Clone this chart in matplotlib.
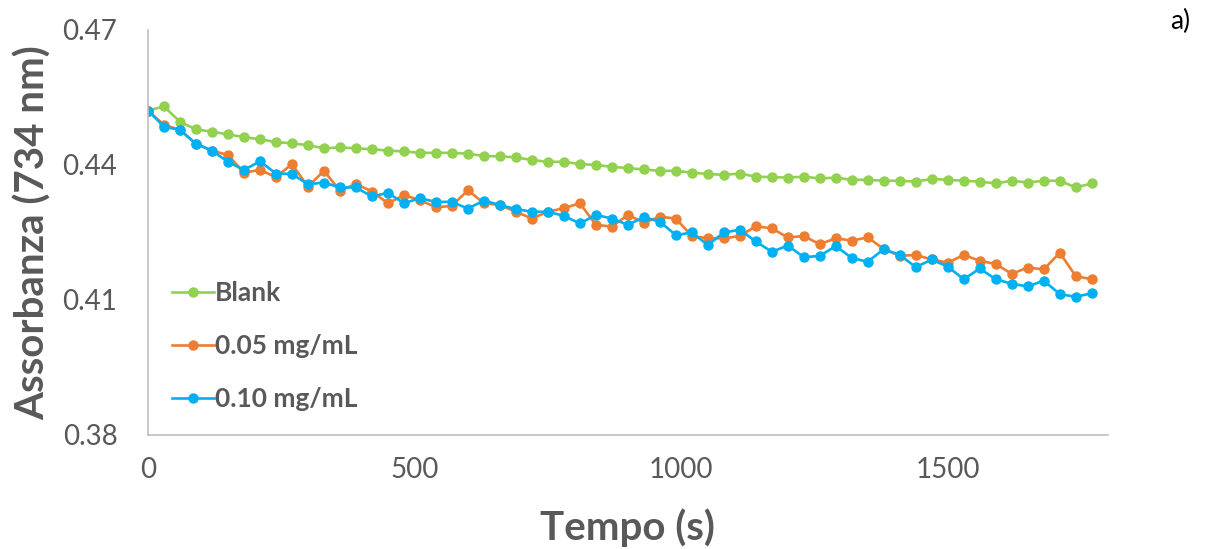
import numpy as np
import matplotlib
matplotlib.use("Agg")
import matplotlib.pyplot as plt

# tempo (s), una lettura ogni 30 s
tempo = np.arange(0, 1800, 30)

blank = [0.4521, 0.4530, 0.4496, 0.4479, 0.4474, 0.4468, 0.4462, 0.4457, 0.4451, 0.4448,
         0.4444, 0.4437, 0.4439, 0.4437, 0.4435, 0.4432, 0.4430, 0.4427, 0.4427, 0.4427,
         0.4425, 0.4420, 0.4419, 0.4417, 0.4411, 0.4407, 0.4407, 0.4402, 0.4400, 0.4396,
         0.4393, 0.4390, 0.4387, 0.4387, 0.4383, 0.4380, 0.4378, 0.4381, 0.4374, 0.4373,
         0.4372, 0.4374, 0.4370, 0.4372, 0.4367, 0.4367, 0.4365, 0.4365, 0.4363, 0.4369,
         0.4367, 0.4365, 0.4363, 0.4359, 0.4365, 0.4361, 0.4365, 0.4365, 0.4350, 0.4359]

c005 = [0.4521, 0.4489, 0.4478, 0.4447, 0.4432, 0.4422, 0.4383, 0.4389, 0.4373, 0.4402,
        0.4352, 0.4387, 0.4343, 0.4358, 0.4341, 0.4315, 0.4333, 0.4322, 0.4306, 0.4309,
        0.4344, 0.4315, 0.4311, 0.4296, 0.4281, 0.4296, 0.4304, 0.4315, 0.4267, 0.4263,
        0.4289, 0.4272, 0.4285, 0.4281, 0.4242, 0.4237, 0.4237, 0.4242, 0.4264, 0.4259,
        0.4239, 0.4242, 0.4224, 0.4237, 0.4232, 0.4239, 0.4213, 0.4198, 0.4200, 0.4190,
        0.4183, 0.4200, 0.4187, 0.4180, 0.4158, 0.4172, 0.4168, 0.4205, 0.4153, 0.4146]

c010 = [0.4521, 0.4485, 0.4478, 0.4447, 0.4432, 0.4407, 0.4389, 0.4408, 0.4381, 0.4380,
        0.4357, 0.4361, 0.4350, 0.4350, 0.4330, 0.4338, 0.4315, 0.4326, 0.4318, 0.4318,
        0.4303, 0.4321, 0.4311, 0.4302, 0.4296, 0.4296, 0.4287, 0.4270, 0.4289, 0.4281,
        0.4267, 0.4284, 0.4274, 0.4244, 0.4250, 0.4222, 0.4250, 0.4256, 0.4230, 0.4207,
        0.4221, 0.4195, 0.4198, 0.4220, 0.4193, 0.4185, 0.4213, 0.4200, 0.4173, 0.4190,
        0.4174, 0.4146, 0.4170, 0.4146, 0.4136, 0.4130, 0.4143, 0.4113, 0.4107, 0.4115]

etichette = ['Blank', '0.05 mg/mL', '0.10 mg/mL']
colori = ['#92D050', '#ED7D31', '#00B0F0']

plt.rcParams['font.family'] = ['Lato', 'DejaVu Sans']
grigio = '#595959'

fig = plt.figure(figsize=(12.08, 5.49), dpi=100)
ax = fig.add_axes([0.1225, 0.2077, 0.7945, 0.7377])

for serie, lab, col in zip([blank, c005, c010], etichette, colori):
    ax.plot(tempo, serie, color=col, lw=1.9, marker='o', markersize=6.5, label=lab)

ax.set_xlim(0, 1800)
ax.set_ylim(0.38, 0.47)
ax.set_xticks([0, 500, 1000, 1500])
ax.set_yticks([0.38, 0.41, 0.44, 0.47])
ax.set_yticklabels(['0.38', '0.41', '0.44', '0.47'])
ax.tick_params(length=0, labelsize=20, colors=grigio)
ax.tick_params(axis='y', pad=22)
ax.tick_params(axis='x', pad=16)

for s in ['top', 'right']:
    ax.spines[s].set_visible(False)
for s in ['left', 'bottom']:
    ax.spines[s].set_color('#BFBFBF')
    ax.spines[s].set_linewidth(1.2)

ax.set_xlabel('Tempo (s)', fontsize=29, fontweight='bold', color=grigio, labelpad=18)
ax.set_ylabel('Assorbanza (734 nm)', fontsize=29, fontweight='bold', color=grigio, labelpad=8)

leg = ax.legend(loc='lower left', bbox_to_anchor=(0.0, 0.0), frameon=False,
                prop={'size': 19, 'weight': 'bold'}, labelspacing=1.1,
                handlelength=1.6, handletextpad=0.05)
for t in leg.get_texts():
    t.set_color(grigio)

fig.text(0.985, 0.96, 'a)', fontsize=19, ha='right', va='center', color='black')

fig.savefig('out.png', dpi=100)
